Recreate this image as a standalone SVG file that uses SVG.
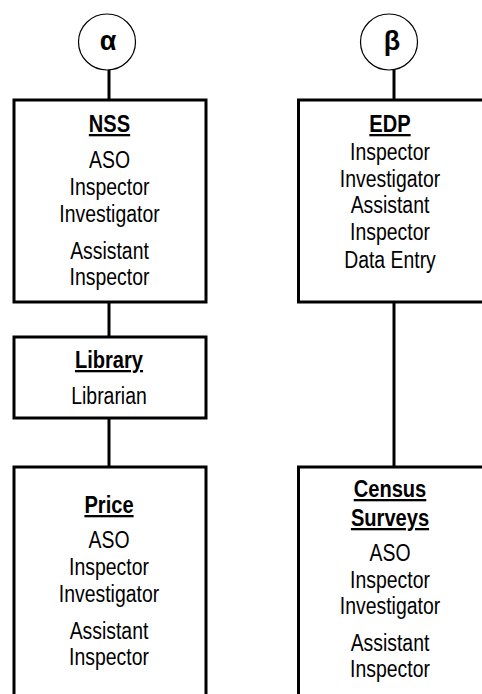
<svg xmlns="http://www.w3.org/2000/svg" width="482" height="694" viewBox="0 0 482 694">
<style>
  .box { fill: #ffffff; stroke: #000000; stroke-width: 3; }
  .circ { fill: #ffffff; stroke: #000000; stroke-width: 1.2; }
  .conn { stroke: #000000; stroke-width: 3; fill: none; }
  text { font-family: "Liberation Sans", Arial, sans-serif; font-size: 23px; fill: #000000; text-anchor: middle; }
  .t { font-weight: bold; text-decoration: underline; }
  .g { font-weight: bold; font-size: 27px; }
</style>
<rect width="482" height="694" fill="#ffffff"/>
<g id="connectors">
  <line class="conn" x1="109" y1="70" x2="109" y2="100"/>
  <line class="conn" x1="109" y1="302" x2="109" y2="337"/>
  <line class="conn" x1="109" y1="418" x2="109" y2="467"/>
  <line class="conn" x1="394" y1="70" x2="394" y2="100"/>
  <line class="conn" x1="394" y1="302" x2="394" y2="467"/>
</g>
<g id="alpha">
  <ellipse class="circ" cx="107" cy="42" rx="28.5" ry="28"/>
  <text class="g" x="108" y="50">α</text>
</g>
<g id="beta">
  <ellipse class="circ" cx="389" cy="42" rx="28.5" ry="28"/>
  <text class="g" x="392" y="50">β</text>
</g>
<g id="nss">
  <rect class="box" x="14" y="100" width="192" height="202"/>
  <text class="t" x="109.5" y="132" textLength="41.3" lengthAdjust="spacingAndGlyphs">NSS</text>
  <text x="109.5" y="168" textLength="41" lengthAdjust="spacingAndGlyphs">ASO</text>
  <text x="109.5" y="195" textLength="79.8" lengthAdjust="spacingAndGlyphs">Inspector</text>
  <text x="109.5" y="222" textLength="100.3" lengthAdjust="spacingAndGlyphs">Investigator</text>
  <text x="109.5" y="259" textLength="78.7" lengthAdjust="spacingAndGlyphs">Assistant</text>
  <text x="109.5" y="285" textLength="79.8" lengthAdjust="spacingAndGlyphs">Inspector</text>
</g>
<g id="edp">
  <rect class="box" x="298.5" y="100" width="186" height="202"/>
  <text class="t" x="390" y="132" textLength="41.3" lengthAdjust="spacingAndGlyphs">EDP</text>
  <text x="390" y="160" textLength="79.8" lengthAdjust="spacingAndGlyphs">Inspector</text>
  <text x="390" y="187" textLength="100.3" lengthAdjust="spacingAndGlyphs">Investigator</text>
  <text x="390" y="213" textLength="78.7" lengthAdjust="spacingAndGlyphs">Assistant</text>
  <text x="390" y="240" textLength="79.8" lengthAdjust="spacingAndGlyphs">Inspector</text>
  <text x="390" y="268" textLength="91.6" lengthAdjust="spacingAndGlyphs">Data Entry</text>
</g>
<g id="library">
  <rect class="box" x="14" y="337" width="192" height="81"/>
  <text class="t" x="109" y="368" textLength="68.1" lengthAdjust="spacingAndGlyphs">Library</text>
  <text x="109" y="404" textLength="75.5" lengthAdjust="spacingAndGlyphs">Librarian</text>
</g>
<g id="price">
  <rect class="box" x="14" y="467" width="192" height="240"/>
  <text class="t" x="109" y="513" textLength="49.2" lengthAdjust="spacingAndGlyphs">Price</text>
  <text x="109" y="548" textLength="41" lengthAdjust="spacingAndGlyphs">ASO</text>
  <text x="109" y="575" textLength="79.8" lengthAdjust="spacingAndGlyphs">Inspector</text>
  <text x="109" y="602" textLength="100.3" lengthAdjust="spacingAndGlyphs">Investigator</text>
  <text x="109" y="639" textLength="78.7" lengthAdjust="spacingAndGlyphs">Assistant</text>
  <text x="109" y="665" textLength="79.8" lengthAdjust="spacingAndGlyphs">Inspector</text>
</g>
<g id="census">
  <rect class="box" x="298.5" y="467" width="186" height="240"/>
  <text class="t" x="390" y="497" textLength="72.6" lengthAdjust="spacingAndGlyphs">Census</text>
  <text class="t" x="390" y="526" textLength="78.2" lengthAdjust="spacingAndGlyphs">Surveys</text>
  <text x="390" y="561" textLength="41" lengthAdjust="spacingAndGlyphs">ASO</text>
  <text x="390" y="588" textLength="79.8" lengthAdjust="spacingAndGlyphs">Inspector</text>
  <text x="390" y="614" textLength="100.3" lengthAdjust="spacingAndGlyphs">Investigator</text>
  <text x="390" y="651" textLength="78.7" lengthAdjust="spacingAndGlyphs">Assistant</text>
  <text x="390" y="677" textLength="79.8" lengthAdjust="spacingAndGlyphs">Inspector</text>
</g>
</svg>
